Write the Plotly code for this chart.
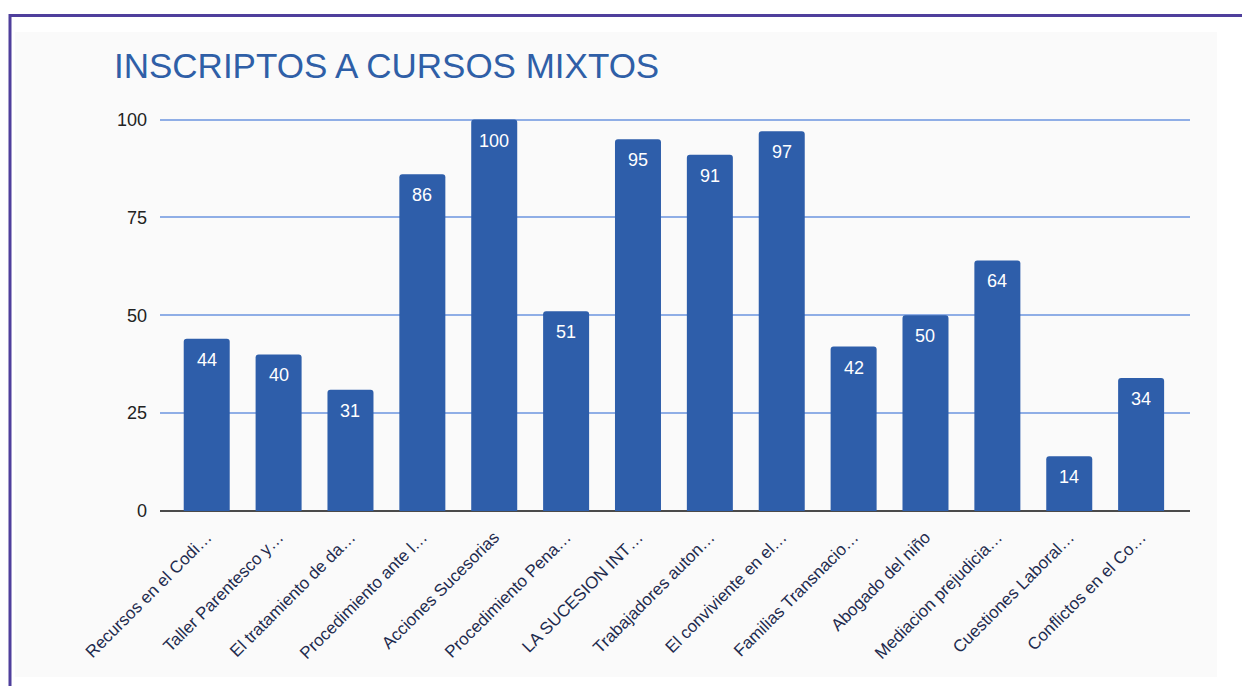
import plotly.graph_objects as go

# Datos: inscriptos por curso
cursos = [
    "Recursos en el Codi…", "Taller Parentesco y…", "El tratamiento de da…",
    "Procedimiento ante l…", "Acciones Sucesorias", "Procedimiento Pena…",
    "LA SUCESION INT…", "Trabajadores auton…", "El conviviente en el…",
    "Familias Transnacio…", "Abogado del niño", "Mediacion prejudicia…",
    "Cuestiones Laboral…", "Conflictos en el Co…",
]
inscriptos = [44, 40, 31, 86, 100, 51, 95, 91, 97, 42, 50, 64, 14, 34]
y_ticks = [0, 25, 50, 75, 100]

BAR = "#2E5EAA"
OFF = 8  # margen del body de la pagina
W, H = 1250 - OFF, 686 - OFF
L, R, T, B = 160 - OFF, 60, 118 - OFF, 175
pw, ph = W - L - R, H - T - B


def px_x(x):
    return (x - OFF - L) / pw


def px_y(y):
    return (H - B - (y - OFF)) / ph


fig = go.Figure(go.Bar(
    x=list(range(len(cursos))), y=inscriptos,
    marker=dict(color=BAR, cornerradius=3, line=dict(width=0)),
    width=0.64, hoverinfo="skip",
))

# etiquetas de valor dentro de cada barra
for i, v in enumerate(inscriptos):
    fig.add_annotation(x=i, y=v, text=str(v), showarrow=False,
                       yanchor="top", yshift=-9,
                       font=dict(family="Liberation Sans, Arial", size=18, color="white"))

fig.update_layout(
    width=W, height=H,
    margin=dict(l=L, r=R, t=T, b=B),
    paper_bgcolor="white", plot_bgcolor="rgba(0,0,0,0)",
    showlegend=False,
    title=dict(text="INSCRIPTOS A CURSOS MIXTOS", xref="container", yref="container",
               x=(114 - OFF) / W, xanchor="left", y=1 - (66 - OFF) / H, yanchor="middle",
               font=dict(family="Liberation Sans, Arial", size=35, color="#2F5FA7")),
    shapes=[
        # panel gris claro
        dict(type="rect", xref="paper", yref="paper", layer="below",
             x0=px_x(15), x1=px_x(1217), y0=px_y(677), y1=px_y(32),
             fillcolor="#FAFAFA", line=dict(width=0)),
        # marco violeta
        dict(type="rect", xref="paper", yref="paper", layer="above",
             x0=px_x(10), x1=px_x(1270), y0=px_y(720), y1=px_y(15.5),
             fillcolor="rgba(0,0,0,0)", line=dict(color="#4F3F9C", width=3)),
    ],
    xaxis=dict(
        range=[-0.65, 13.68], tickmode="array",
        tickvals=list(range(len(cursos))), ticktext=cursos,
        tickangle=-45, showgrid=False, zeroline=False, showline=False, ticks="",
        ticklabelstandoff=12,
        tickfont=dict(family="Liberation Sans, Arial", size=17, color="#1E2B4E"),
    ),
    yaxis=dict(
        range=[0, 100.4], tickmode="array", tickvals=y_ticks,
        showgrid=True, gridcolor="#8FAEE6", gridwidth=1.5,
        zeroline=True, zerolinecolor="#4A4A4A", zerolinewidth=2,
        showline=False, ticks="", ticklabelstandoff=12,
        tickfont=dict(family="Liberation Sans, Arial", size=18, color="#222222"),
    ),
)

fig.write_html("out.html")
